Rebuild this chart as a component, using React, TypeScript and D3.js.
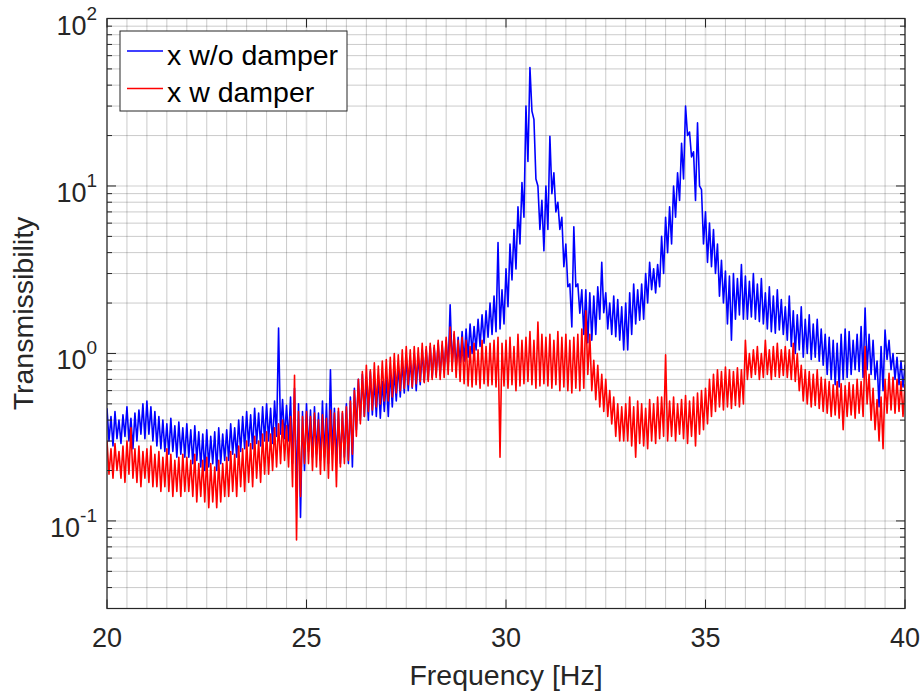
import React from "react";
import * as d3 from "d3";

// Frequency grid: 20.0 .. 40.0 Hz, 0.1 Hz step; each bin has an upper and lower reading
const F_START = 20;
const F_STEP = 0.1;

const blueHi = [
  0.47,0.42,0.45,0.40,0.43,0.48,0.41,0.44,0.46,0.50,
  0.52,0.48,0.45,0.42,0.40,0.38,0.41,0.37,0.39,0.36,
  0.38,0.35,0.37,0.34,0.33,0.35,0.32,0.34,0.36,0.33,
  0.35,0.38,0.36,0.40,0.42,0.45,0.43,0.47,0.44,0.48,
  0.50,0.47,0.52,1.42,0.53,0.49,0.55,0.62,0.50,0.45,
  0.50,0.46,0.48,0.44,0.52,0.50,0.80,0.47,0.45,0.44,
  0.50,0.55,0.62,0.70,0.75,0.72,0.78,0.70,0.74,0.68,
  0.72,0.80,0.78,0.85,0.90,0.95,0.92,1.00,0.98,1.05,
  1.05,1.10,1.08,1.15,1.12,1.20,1.95,1.30,1.25,1.35,
  1.40,1.50,1.45,1.60,1.70,1.80,2.00,2.20,4.60,2.40,
  3.2,4.5,5.5,7.5,10.5,30,51,25,10,8.2,
  10,19.8,12,8,6.5,4.5,2.6,5.7,2.6,2.4,
  2.4,2.3,2.2,2.5,3.5,2.3,2.0,2.2,2.1,1.9,
  2.0,2.3,2.6,2.4,2.6,3.0,3.5,3.2,3.4,5.0,
  6.5,7.5,10,12,18,30,21,16,23.8,9.5,
  7,6,5.5,4.5,3.6,3.1,2.9,3.0,2.8,3.4,
  2.9,2.7,3.0,2.6,2.8,2.3,2.5,2.2,2.4,2.1,
  1.9,2.2,1.8,1.7,1.9,1.6,1.7,1.5,1.6,1.4,
  1.3,1.25,1.2,1.15,1.3,1.4,1.35,1.2,1.3,1.45,
  1.87,1.3,1.2,0.9,1.1,1.38,1.2,1.0,0.95,0.9,
  0.85,
];
const blueLo = [
  0.30,0.28,0.31,0.29,0.32,0.30,0.27,0.30,0.33,0.31,
  0.33,0.30,0.28,0.27,0.26,0.25,0.26,0.24,0.25,0.24,
  0.24,0.22,0.23,0.21,0.20,0.21,0.22,0.20,0.22,0.23,
  0.23,0.25,0.24,0.26,0.27,0.28,0.27,0.29,0.28,0.30,
  0.30,0.29,0.32,0.33,0.31,0.30,0.22,0.15,0.105,0.20,
  0.26,0.24,0.25,0.23,0.24,0.22,0.25,0.23,0.22,0.24,
  0.22,0.21,0.35,0.40,0.42,0.40,0.43,0.42,0.41,0.45,
  0.42,0.48,0.52,0.55,0.58,0.60,0.62,0.60,0.65,0.68,
  0.70,0.72,0.75,0.74,0.78,0.80,0.85,0.82,0.88,0.90,
  0.95,1.00,1.05,1.10,1.15,1.25,1.30,1.35,1.40,1.50,
  1.9,2.75,3.2,4.5,6.5,14,28,11,5.5,4.1,
  5.5,9,7,5.5,3.3,2.5,1.44,2.5,1.74,1.3,
  1.16,1.2,1.3,1.6,1.75,1.4,1.3,1.26,1.2,1.05,
  1.05,1.3,1.5,1.58,1.6,2.0,2.4,2.3,2.5,3.0,
  4.0,4.5,6.5,8.2,11,20,14.9,8.2,10,4.5,
  3.5,3.3,3.0,2.2,2.0,1.5,1.2,1.6,1.7,1.6,
  1.6,1.65,1.6,1.55,1.5,1.4,1.35,1.32,1.38,1.3,
  1.2,1.1,1.0,1.05,0.95,1.0,0.92,0.95,0.9,0.85,
  0.75,0.7,0.65,0.63,0.7,0.72,0.75,0.8,0.78,0.72,
  0.8,0.75,0.7,0.48,0.6,0.92,0.8,0.7,0.65,0.63,
  0.65,
];
const redHi = [
  0.30,0.27,0.29,0.26,0.28,0.30,0.36,0.27,0.28,0.26,
  0.27,0.28,0.25,0.26,0.24,0.27,0.25,0.23,0.24,0.25,
  0.24,0.23,0.25,0.22,0.23,0.24,0.22,0.21,0.23,0.22,
  0.24,0.26,0.25,0.28,0.27,0.30,0.29,0.32,0.30,0.33,
  0.34,0.33,0.36,0.38,0.40,0.37,0.42,0.74,0.45,0.42,
  0.45,0.42,0.44,0.40,0.43,0.41,0.46,0.44,0.47,0.45,
  0.48,0.52,0.60,0.70,0.78,0.85,0.80,0.88,0.84,0.90,
  0.92,0.95,1.0,0.98,1.05,1.1,1.05,1.1,1.08,1.15,
  1.1,1.15,1.12,1.2,1.18,1.25,1.44,1.35,1.2,1.25,
  1.2,1.1,1.15,1.05,1.2,1.1,1.15,1.2,1.25,1.15,
  1.2,1.25,1.1,1.3,1.2,1.25,1.35,1.2,1.54,1.3,
  1.25,1.3,1.2,1.35,1.25,1.3,1.2,1.25,1.3,1.4,
  1.8,1.3,0.91,0.85,0.75,0.70,0.60,0.55,0.50,0.48,
  0.50,0.55,0.48,0.52,0.50,0.47,0.53,0.50,0.55,0.55,
  0.98,0.52,0.55,0.50,0.53,0.56,0.52,0.55,0.58,0.60,
  0.62,0.70,0.75,0.80,0.78,0.83,0.80,0.78,0.82,0.80,
  1.2,1.0,1.05,1.1,1.0,1.2,1.05,1.1,1.15,1.05,
  1.1,1.05,1.15,1.0,0.85,0.80,0.78,0.75,0.80,0.72,
  0.70,0.68,0.65,0.68,0.66,0.64,0.67,0.65,0.70,0.68,
  1.1,0.75,0.62,0.53,0.55,0.70,0.76,0.72,0.70,0.68,
  0.65,
];
const redLo = [
  0.19,0.18,0.20,0.18,0.17,0.19,0.18,0.17,0.16,0.18,
  0.17,0.16,0.16,0.15,0.16,0.15,0.14,0.15,0.14,0.15,
  0.15,0.14,0.13,0.14,0.13,0.12,0.13,0.12,0.13,0.14,
  0.14,0.15,0.14,0.16,0.15,0.17,0.16,0.18,0.17,0.19,
  0.19,0.20,0.21,0.22,0.23,0.21,0.16,0.077,0.14,0.22,
  0.22,0.20,0.21,0.19,0.20,0.18,0.20,0.16,0.21,0.22,
  0.23,0.25,0.32,0.38,0.42,0.45,0.46,0.48,0.50,0.52,
  0.52,0.55,0.58,0.60,0.62,0.65,0.63,0.66,0.68,0.67,
  0.68,0.70,0.72,0.70,0.72,0.75,0.78,0.72,0.68,0.66,
  0.64,0.63,0.65,0.62,0.66,0.64,0.65,0.63,0.24,0.64,
  0.62,0.65,0.60,0.64,0.66,0.68,0.65,0.62,0.64,0.66,
  0.64,0.62,0.65,0.60,0.63,0.60,0.58,0.62,0.60,0.62,
  0.75,0.60,0.53,0.48,0.45,0.42,0.38,0.32,0.30,0.30,
  0.30,0.28,0.24,0.29,0.28,0.27,0.30,0.29,0.31,0.32,
  0.30,0.32,0.30,0.33,0.31,0.29,0.32,0.28,0.33,0.35,
  0.38,0.42,0.45,0.48,0.46,0.48,0.47,0.49,0.48,0.50,
  0.70,0.72,0.75,0.70,0.72,0.75,0.70,0.73,0.72,0.74,
  0.72,0.70,0.68,0.60,0.52,0.50,0.48,0.49,0.47,0.45,
  0.44,0.42,0.43,0.41,0.35,0.42,0.43,0.41,0.44,0.42,
  0.50,0.40,0.35,0.30,0.27,0.44,0.46,0.44,0.45,0.42,
  0.40,
];

const xTicks = [20, 25, 30, 35, 40];
const yTickExps = [-1, 0, 1, 2];
const seriesNames = ["x w/o damper", "x w damper"];
const seriesColors = ["#0000ff", "#ff0000"];
const xLabel = "Frequency [Hz]";
const yLabel = "Transmissibility";

const L = 107, R = 905, T = 18.5, B = 608.5;
const FONT = "'Liberation Sans', Arial, Helvetica, sans-serif";
const AX = "#262626";

export default function App() {
  const x = d3.scaleLinear().domain([20, 40]).range([L, R]);
  const y = d3.scaleLog().domain([0.03, 100]).range([B, T]);

  const toPts = (hi: number[], lo: number[]) => {
    const pts: [number, number][] = [];
    hi.forEach((h, i) => {
      const f = F_START + i * F_STEP;
      pts.push([f, h]);
      pts.push([f + F_STEP / 2, lo[i]]);
    });
    return pts;
  };
  const line = d3
    .line<[number, number]>()
    .x((d) => x(d[0]))
    .y((d) => y(d[1]));

  const bluePath = line(toPts(blueHi, blueLo)) || "";
  const redPath = line(toPts(redHi, redLo)) || "";

  const xMinor: number[] = d3
    .range(20, 40.001, 0.5)
    .filter((v) => Math.abs(v % 5) > 1e-6 && Math.abs((v % 5) - 5) > 1e-6);
  const yMinor: number[] = [];
  for (let e = -2; e <= 1; e++) {
    for (let m = 2; m <= 9; m++) {
      const v = m * Math.pow(10, e);
      if (v >= 0.03 && v <= 100) yMinor.push(v);
    }
  }
  const yMajor = yTickExps.map((e) => Math.pow(10, e));

  return (
    <svg width={920} height={693} style={{ display: "block", position: "absolute", left: 0, top: 0, background: "#fff" }}>
      <defs>
        <clipPath id="plotclip">
          <rect x={L} y={T} width={R - L} height={B - T} />
        </clipPath>
      </defs>
      <rect x={0} y={0} width={920} height={693} fill="#fff" />
      <g stroke={AX} strokeOpacity={0.3} strokeWidth={0.8}>
        {xMinor.map((v) => (
          <line key={"xm" + v} x1={x(v)} x2={x(v)} y1={T} y2={B} />
        ))}
        {yMinor.map((v) => (
          <line key={"ym" + v} x1={L} x2={R} y1={y(v)} y2={y(v)} />
        ))}
      </g>
      <g stroke={AX} strokeOpacity={0.15} strokeWidth={1.6}>
        {xTicks.map((v) => (
          <line key={"xM" + v} x1={x(v)} x2={x(v)} y1={T} y2={B} />
        ))}
        {yMajor.map((v) => (
          <line key={"yM" + v} x1={L} x2={R} y1={y(v)} y2={y(v)} />
        ))}
      </g>
      <g clipPath="url(#plotclip)" fill="none" strokeWidth={1.6} strokeLinejoin="round">
        <path d={bluePath} stroke={seriesColors[0]} />
        <path d={redPath} stroke={seriesColors[1]} />
      </g>
      <g stroke={AX} strokeWidth={1}>
        {xTicks.map((v) => (
          <g key={"xt" + v}>
            <line x1={x(v)} x2={x(v)} y1={B} y2={B - 9} />
            <line x1={x(v)} x2={x(v)} y1={T} y2={T + 9} />
          </g>
        ))}
        {yMajor.map((v) => (
          <g key={"yt" + v}>
            <line x1={L} x2={L + 9} y1={y(v)} y2={y(v)} />
            <line x1={R} x2={R - 9} y1={y(v)} y2={y(v)} />
          </g>
        ))}
        {yMinor.map((v) => (
          <g key={"ytm" + v}>
            <line x1={L} x2={L + 5} y1={y(v)} y2={y(v)} />
            <line x1={R} x2={R - 5} y1={y(v)} y2={y(v)} />
          </g>
        ))}
      </g>
      <rect x={L} y={T} width={R - L} height={B - T} fill="none" stroke={AX} strokeWidth={1.2} />
      <g fontFamily={FONT} fill={AX} fontSize={27}>
        {xTicks.map((v) => (
          <text key={"xl" + v} x={x(v)} y={647} textAnchor="middle">
            {v}
          </text>
        ))}
        {yTickExps.map((e) => (
          <text key={"yl" + e} x={97} y={y(Math.pow(10, e)) + 16} textAnchor="end">
            10
            <tspan dy={-15} fontSize={19}>
              {e < 0 ? "-" + Math.abs(e) : String(e)}
            </tspan>
          </text>
        ))}
      </g>
      <text x={(L + R) / 2} y={685} textAnchor="middle" fontFamily={FONT} fontSize={28.5} fill={AX}>
        {xLabel}
      </text>
      <text
        transform={`translate(33, ${(T + B) / 2}) rotate(-90)`}
        textAnchor="middle"
        fontFamily={FONT}
        fontSize={28.5}
        fill={AX}
      >
        {yLabel}
      </text>
      <g>
        <rect x={120} y={31} width={227} height={80} fill="#fff" stroke={AX} strokeWidth={1} />
        {seriesNames.map((name, i) => (
          <g key={name}>
            <line x1={127} x2={163} y1={51 + i * 37.5} y2={51 + i * 37.5} stroke={seriesColors[i]} strokeWidth={1.3} />
            <text x={167} y={65 + i * 36.5} fontFamily={FONT} fontSize={28.5} fill="#000">
              {name}
            </text>
          </g>
        ))}
      </g>
    </svg>
  );
}
